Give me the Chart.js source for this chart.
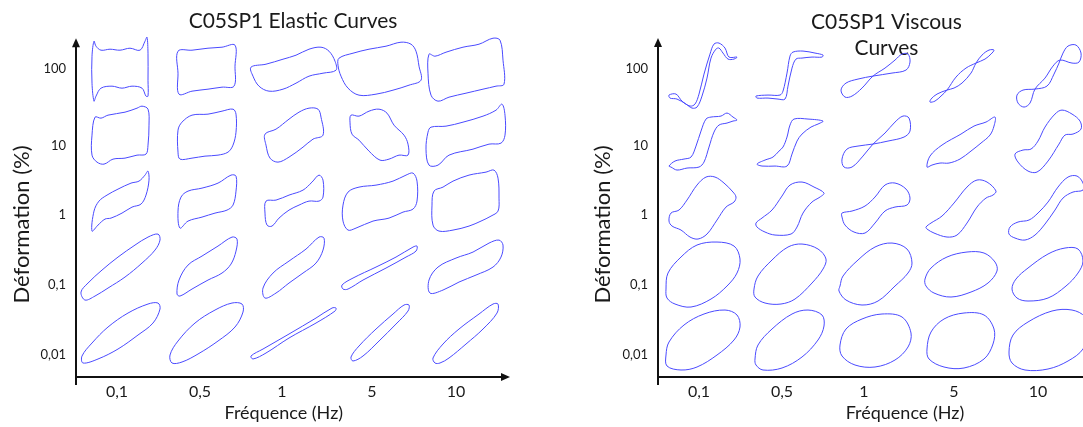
<!DOCTYPE html>
<html>
<head>
<meta charset="utf-8">
<script src="https://cdn.jsdelivr.net/npm/chart.js@4.4.1/dist/chart.umd.min.js"></script>
<style>
  html, body { margin: 0; padding: 0; background: #fff; overflow: hidden; width: 1083px; height: 427px; }
  #cLeft { position: absolute; left: 0; top: 0; }
  #cRight { position: absolute; left: 541px; top: 0; }
</style>
</head>
<body>
<canvas id="cLeft" width="541" height="427"></canvas>
<canvas id="cRight" width="574" height="427"></canvas>
<script>
const freqLabels = ['0,1', '0,5', '1', '5', '10']
const strainLabels = ['0,01', '0,1', '1', '10', '100']

// each row = one strain level, one loop per frequency
// a loop is a list of [dx, dy] points read around its own centre (stress vs strain)
const elastic100 = [
  [[-27,28],[-25,23],[-20,19],[-11,20],[-1,19],[9,21],[19,19],[24,28],[26,32],[27,16],[27,-11],[27,-27],[25,-27],[21,-19],[11,-17],[1,-19],[-9,-17],[-20,-19],[-25,-27],[-27,-32],[-29,-14],[-29,13]],
  [[-29,18],[-15,19],[1,21],[15,22],[28,24],[28,3],[27,-17],[15,-18],[1,-20],[-15,-22],[-28,-25],[-29,-4]],
  [[-42,2],[-27,5],[-10,10],[3,14],[16,20],[28,22],[36,18],[42,8],[43,-1],[30,-4],[16,-7],[3,-14],[-10,-20],[-24,-22],[-34,-17],[-40,-7]],
  [[-40,11],[-26,16],[-10,20],[7,23],[22,27],[32,25],[37,18],[40,3],[42,-11],[30,-16],[14,-21],[-3,-25],[-20,-26],[-31,-19],[-38,-7],[-41,4]],
  [[-37,15],[-31,13],[-20,17],[-3,22],[13,25],[27,31],[34,29],[37,9],[38,-15],[30,-17],[17,-20],[0,-24],[-17,-28],[-28,-32],[-35,-26],[-38,-4]]
]
const elastic10 = [
  [[-26,18],[-20,17],[-13,20],[4,23],[16,27],[21,29],[27,26],[28,10],[27,-10],[25,-19],[16,-20],[4,-23],[-8,-24],[-17,-29],[-24,-27],[-29,-20],[-29,0]],
  [[-25,13],[-15,20],[1,21],[15,24],[26,26],[29,21],[29,3],[26,-10],[21,-17],[11,-20],[-2,-21],[-15,-23],[-27,-24],[-29,-17],[-29,5]],
  [[-28,1],[-17,6],[-4,16],[6,23],[16,27],[25,26],[28,18],[30,0],[20,-4],[10,-12],[-4,-22],[-15,-27],[-23,-23],[-27,-10]],
  [[-28,20],[-20,19],[-10,24],[0,26],[8,22],[15,10],[25,0],[29,-9],[29,-20],[20,-20],[10,-24],[1,-25],[-10,-16],[-20,-5],[-27,1],[-29,13]],
  [[-35,8],[-20,9],[-3,13],[17,19],[30,25],[36,31],[39,20],[39,0],[35,-8],[23,-9],[7,-14],[-17,-20],[-28,-30],[-37,-30],[-40,-14],[-38,3]]
]
const elastic1 = [
  [[-29,-30],[-27,-10],[-22,0],[-14,6],[-3,12],[10,18],[18,20],[24,26],[27,30],[28,21],[25,6],[20,-3],[11,-6],[1,-12],[-10,-17],[-16,-18],[-23,-24]],
  [[-27,-27],[-29,-10],[-26,4],[-19,10],[-5,13],[11,18],[24,26],[29,25],[29,10],[26,-4],[20,-9],[8,-12],[-5,-16],[-19,-20]],
  [[-27,0],[-17,1],[-4,6],[10,11],[19,19],[26,26],[30,21],[30,4],[26,0],[16,0],[6,-4],[-4,-9],[-14,-17],[-21,-25],[-26,-24],[-28,-12]],
  [[-31,9],[-20,14],[-3,16],[14,20],[27,26],[34,28],[38,20],[38,0],[34,-8],[24,-11],[10,-17],[-6,-20],[-23,-27],[-31,-29],[-36,-20],[-36,-4]],
  [[-32,10],[-23,14],[-13,20],[3,26],[20,29],[28,31],[32,23],[33,3],[32,-10],[25,-15],[15,-20],[3,-25],[-13,-29],[-27,-30],[-33,-24],[-34,-4]]
]
const elastic01 = [
  [[-40,-25],[-33,-16],[-19,-3],[-3,10],[14,22],[27,30],[37,33],[39,27],[34,17],[21,4],[4,-10],[-13,-21],[-26,-29],[-36,-33]],
  [[-30,-27],[-28,-13],[-19,2],[-5,11],[11,21],[25,30],[30,28],[29,16],[24,3],[15,-6],[1,-13],[-15,-22],[-27,-29]],
  [[-28,-31],[-30,-21],[-20,-6],[-4,6],[13,18],[26,30],[31,29],[30,17],[23,4],[10,-6],[-4,-16],[-17,-26]],
  [[-36,-22],[-37,-18],[-26,-11],[-3,0],[17,10],[34,20],[38,21],[37,16],[27,10],[7,-1],[-16,-13],[-31,-22]],
  [[-36,-26],[-37,-13],[-28,0],[-10,9],[7,15],[23,24],[33,27],[37,22],[35,10],[27,0],[10,-8],[-7,-15],[-23,-23]]
]
const elastic001 = [
  [[-38,-30],[-39,-23],[-29,-10],[-13,6],[7,20],[27,29],[37,30],[39,24],[32,10],[17,-2],[-3,-16],[-23,-26]],
  [[-35,-30],[-37,-22],[-29,-8],[-12,10],[8,23],[25,30],[35,29],[36,21],[28,6],[11,-8],[-9,-21],[-25,-29]],
  [[-40,-26],[-42,-23],[-30,-16],[-4,-1],[23,15],[39,25],[43,25],[42,22],[23,10],[-4,-5],[-27,-20]],
  [[-26,-28],[-28,-24],[-20,-13],[-3,4],[14,19],[25,28],[30,28],[29,22],[17,9],[0,-8],[-16,-23]],
  [[-31,-30],[-33,-25],[-23,-11],[-7,4],[13,19],[27,29],[32,29],[31,20],[17,4],[0,-11],[-17,-25],[-26,-30]]
]

const viscous100 = [
  [[-34,-20],[-27,-19],[-21,-26],[-13,-31],[-8,-29],[-4,-19],[1,1],[7,21],[11,31],[16,32],[22,27],[26,18],[34,18],[31,16],[25,16],[20,22],[16,27],[13,26],[8,17],[4,-3],[-1,-21],[-6,-32],[-11,-33],[-17,-29],[-26,-24],[-33,-23]],
  [[-33,-21],[-21,-20],[-9,-20],[-6,-16],[-2,2],[1,19],[4,23],[14,24],[26,22],[34,20],[33,18],[23,18],[13,17],[7,16],[3,7],[-1,-11],[-4,-24],[-11,-24],[-21,-23],[-32,-23]],
  [[-2,-1],[10,7],[20,15],[27,21],[33,21],[35,13],[31,5],[17,2],[-2,-1],[-17,-4],[-29,-8],[-34,-15],[-30,-22],[-23,-21],[-13,-13]],
  [[-14,-15],[-5,-2],[5,7],[15,12],[24,16],[30,21],[33,25],[28,25],[21,20],[15,12],[10,2],[1,-8],[-7,-13],[-14,-15],[-24,-19],[-30,-24],[-31,-27],[-26,-26],[-20,-21]],
  [[-13,-14],[-3,-3],[5,9],[12,15],[24,12],[31,13],[33,22],[28,30],[20,29],[15,22],[11,12],[6,1],[-1,-11],[-13,-14],[-25,-15],[-31,-20],[-30,-28],[-24,-32],[-18,-28]]
]
const viscous10 = [
  [[-34,-25],[-28,-20],[-19,-18],[-12,-16],[-7,-5],[-2,10],[3,22],[8,24],[18,25],[24,28],[30,24],[34,21],[30,20],[24,18],[16,16],[11,9],[6,-6],[1,-21],[-4,-26],[-16,-27],[-26,-29],[-32,-26]],
  [[-32,-23],[-24,-19],[-16,-16],[-10,-10],[-6,-6],[-2,4],[1,16],[5,22],[19,22],[34,20],[29,17],[22,14],[13,7],[8,0],[3,-13],[-2,-25],[-14,-25],[-27,-25]],
  [[-2,-3],[10,8],[20,19],[28,25],[34,23],[35,10],[29,4],[13,0],[-2,-3],[-17,-5],[-28,-8],[-33,-18],[-31,-26],[-23,-26],[-12,-15]],
  [[-34,-26],[-31,-15],[-19,-4],[0,7],[13,15],[25,19],[34,24],[33,15],[29,6],[20,-2],[10,-10],[-1,-18],[-12,-22],[-21,-22],[-29,-24]],
  [[-33,-13],[-25,-9],[-17,-8],[-10,0],[-3,14],[7,27],[14,31],[24,27],[32,20],[33,12],[25,7],[17,6],[11,-3],[0,-20],[-11,-31],[-20,-30],[-30,-21]]
]
const viscous1 = [
  [[-34,-14],[-32,-6],[-24,-3],[-16,7],[-6,22],[3,30],[12,30],[21,24],[30,15],[33,10],[31,5],[23,0],[14,-13],[4,-27],[-5,-32],[-13,-30],[-22,-23],[-31,-19]],
  [[-33,-16],[-27,-11],[-17,-3],[-7,11],[1,22],[13,25],[25,20],[35,14],[31,10],[23,5],[14,-6],[8,-20],[2,-27],[-14,-28],[-24,-25],[-32,-20]],
  [[-33,-6],[-23,-4],[-10,1],[0,10],[10,22],[20,24],[31,18],[35,9],[32,2],[20,0],[10,-4],[0,-16],[-10,-26],[-21,-25],[-30,-18],[-33,-10]],
  [[-35,-20],[-30,-16],[-19,-9],[-7,4],[6,20],[16,27],[26,25],[35,16],[32,12],[25,9],[16,0],[6,-16],[-4,-28],[-14,-30],[-27,-26],[-34,-22]],
  [[-39,-27],[-38,-20],[-30,-15],[-19,-13],[-10,-6],[0,5],[10,20],[20,30],[29,31],[35,24],[35,17],[25,15],[15,9],[7,-3],[-3,-17],[-13,-28],[-23,-33],[-33,-31]]
]
const viscous01 = [
  [[-37,-16],[-35,0],[-22,16],[-6,28],[14,31],[31,27],[37,14],[34,0],[24,-13],[8,-26],[-12,-34],[-28,-31],[-36,-25]],
  [[-35,-16],[-31,-3],[-17,13],[-1,26],[13,29],[29,24],[37,14],[34,4],[23,-10],[6,-26],[-8,-31],[-24,-30],[-34,-24]],
  [[-35,-13],[-32,-3],[-17,13],[0,26],[17,30],[32,24],[37,10],[33,0],[20,-13],[3,-28],[-13,-32],[-29,-27],[-36,-18]],
  [[-36,-6],[-30,5],[-14,16],[6,21],[23,20],[34,11],[36,2],[27,-10],[10,-19],[-10,-24],[-27,-20],[-35,-13]],
  [[-36,-16],[-32,-6],[-20,5],[0,19],[17,25],[30,24],[35,12],[30,0],[18,-13],[0,-25],[-20,-28],[-31,-25]]
]
const viscous001 = [
  [[-37,-16],[-34,-3],[-19,14],[1,25],[22,29],[34,24],[37,12],[31,-1],[14,-16],[-6,-28],[-22,-31],[-36,-27]],
  [[-34,-20],[-31,-6],[-17,10],[3,25],[19,29],[33,24],[35,13],[29,-1],[13,-18],[-7,-29],[-26,-31],[-33,-26]],
  [[-35,-6],[-29,10],[-13,20],[7,25],[27,22],[36,6],[33,-8],[20,-21],[0,-28],[-20,-26],[-33,-17]],
  [[-34,-10],[-30,7],[-17,20],[3,26],[23,24],[33,10],[32,-5],[23,-20],[3,-29],[-17,-28],[-32,-20]],
  [[-39,-13],[-35,4],[-20,17],[4,28],[24,29],[37,22],[40,7],[35,-10],[20,-22],[0,-30],[-23,-31],[-36,-24]]
]

const elasticRows = [elastic001, elastic01, elastic1, elastic10, elastic100]
const viscousRows = [viscous001, viscous01, viscous1, viscous10, viscous100]

// layout (axis units are picture pixels from the axes)
const freqTickPos = [41, 124, 206, 296, 380]
const strainTickPos = [22, 92, 162, 231, 308]
const loopColPos = [45, 131, 217, 303, 390]
const elasticRowPos = [44, 110, 176, 242, 308]
const viscousRowPos = [38, 104, 170, 236, 302]

const FONT = 'Lato, "Open Sans", sans-serif'
const INK = '#1a1a1a'
const LOOP = '#4a4aff'

function loopDatasets(rows, rowPos) {
    const sets = []
    rows.forEach((row, r) => row.forEach((loop, c) => {
        const pts = loop.map(([dx, dy]) => ({x: loopColPos[c] + dx, y: rowPos[r] + dy}))
        const n = pts.length
        // pad both ends so the closing join is smooth, and hide the padding segments
        const data = [pts[n - 1], ...pts, pts[0], pts[1]]
        sets.push({
            label: strainLabels[r] + ' % / ' + freqLabels[c] + ' Hz',
            data,
            showLine: true,
            pointRadius: 0,
            borderColor: LOOP,
            borderWidth: 1,
            tension: 0.35,
            clip: false,
            segment: {
                borderColor: ctx => (ctx.p0DataIndex === 0 || ctx.p0DataIndex === n + 1) ? 'rgba(0,0,0,0)' : undefined
            }
        })
    }))
    return sets
}

const axisArrows = {
    id: 'axisArrows',
    afterDraw(chart) {
        const {ctx, chartArea: a} = chart
        ctx.save()
        ctx.strokeStyle = '#111'
        ctx.fillStyle = '#111'
        ctx.lineWidth = 2
        ctx.beginPath()
        ctx.moveTo(a.left, a.bottom + 8)
        ctx.lineTo(a.left, a.top + 6)
        ctx.moveTo(a.left - 1, a.bottom)
        ctx.lineTo(a.right - 6, a.bottom)
        ctx.stroke()
        ctx.beginPath()
        ctx.moveTo(a.left, a.top)
        ctx.lineTo(a.left - 4, a.top + 9)
        ctx.lineTo(a.left + 4, a.top + 9)
        ctx.closePath()
        ctx.fill()
        ctx.beginPath()
        ctx.moveTo(a.right, a.bottom)
        ctx.lineTo(a.right - 9, a.bottom - 4)
        ctx.lineTo(a.right - 9, a.bottom + 4)
        ctx.closePath()
        ctx.fill()
        ctx.restore()
    }
}

function makeChart(canvasId, rows, rowPos, cfg) {
    return new Chart(document.getElementById(canvasId), {
        type: 'scatter',
        data: {datasets: loopDatasets(rows, rowPos)},
        plugins: [axisArrows],
        options: {
            responsive: false,
            animation: false,
            layout: {padding: {left: 0, right: cfg.padRight, top: 0, bottom: 0}},
            elements: {line: {capBezierPoints: false}},
            plugins: {
                legend: {display: false},
                tooltip: {enabled: false},
                title: {
                    display: true,
                    text: cfg.title,
                    fullSize: false,
                    color: INK,
                    font: {family: FONT, size: 21, weight: 'normal', lineHeight: cfg.titleLineHeight},
                    padding: cfg.titlePadding
                }
            },
            scales: {
                x: {
                    type: 'linear',
                    min: 0,
                    max: cfg.xMax,
                    grid: {display: false, drawTicks: false},
                    border: {display: false},
                    afterBuildTicks: s => { s.ticks = freqTickPos.map(v => ({value: v})) },
                    afterFit: s => { s.height = 50 },
                    ticks: {
                        autoSkip: false, maxRotation: 0, padding: 5, color: INK,
                        font: {family: FONT, size: 16},
                        callback: (v, i) => freqLabels[i]
                    },
                    title: {
                        display: true, text: cfg.xTitle, color: INK,
                        font: {family: FONT, size: 18},
                        padding: {top: 0, bottom: 3}
                    }
                },
                y: {
                    type: 'linear',
                    min: 0,
                    max: 339,
                    grid: {display: false, drawTicks: false},
                    border: {display: false},
                    afterBuildTicks: s => { s.ticks = strainTickPos.map(v => ({value: v})) },
                    afterFit: s => { s.width = cfg.yWidth },
                    ticks: {
                        autoSkip: false, padding: 10, color: INK,
                        font: {family: FONT, size: 13},
                        callback: (v, i) => strainLabels[i]
                    },
                    title: {
                        display: true, text: 'Déformation (%)      ', color: INK,
                        font: {family: FONT, size: 22},
                        padding: {top: cfg.yTitlePad, bottom: 0}
                    }
                }
            }
        }
    })
}

makeChart('cLeft', elasticRows, elasticRowPos, {
    title: 'C05SP1 Elastic Curves',
    titleLineHeight: 1.2,
    titlePadding: {top: 9, bottom: 4},
    padRight: 31,
    xMax: 434,
    yWidth: 76,
    yTitlePad: 9,
    xTitle: 'Fréquence (Hz)    '
})
makeChart('cRight', viscousRows, viscousRowPos, {
    title: ['C05SP1 Viscous', 'Curves'],
    titleLineHeight: 1.24,
    titlePadding: {top: 9, bottom: -23},
    padRight: 0,
    xMax: 457,
    yWidth: 117,
    yTitlePad: 49,
    xTitle: '        Fréquence (Hz)'
})
</script>
</body>
</html>
